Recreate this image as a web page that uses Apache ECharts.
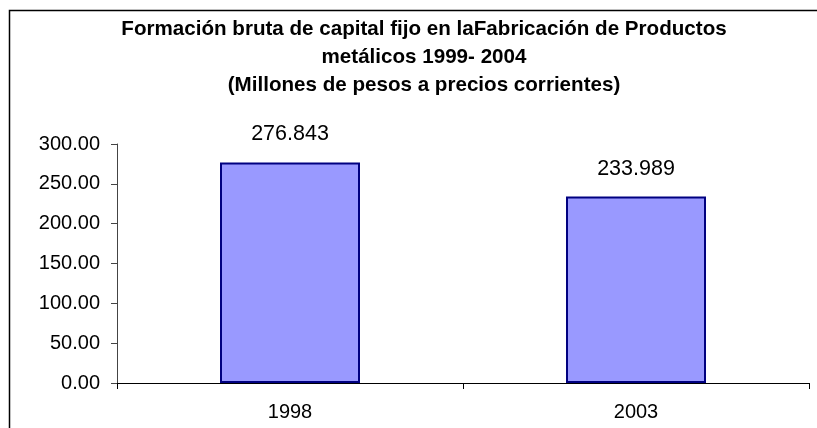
<!DOCTYPE html>
<html>
<head>
<meta charset="utf-8">
<script src="https://cdn.jsdelivr.net/npm/echarts@6/dist/echarts.min.js"></script>
<style>
  html, body { margin: 0; padding: 0; background: #fff; }
  #chart { width: 817px; height: 428px; }
</style>
</head>
<body>
<div id="chart"></div>
<script>
const titleLines = [
  'Formación bruta de capital fijo en laFabricación de Productos',
  'metálicos 1999- 2004',
  '(Millones de pesos a precios corrientes)'
]
const years = ['1998', '2003']
const values = [276.843, 233.989]
const yMin = 0
const yMax = 300
const yStep = 50

const font = "'Liberation Sans', Arial, sans-serif"

const chart = echarts.init(document.getElementById('chart'))

chart.setOption({
  animation: false,
  textStyle: { fontFamily: font },
  title: {
    text: titleLines.join('\n'),
    left: 419,
    top: 10,
    textAlign: 'center',
    textStyle: {
      fontFamily: font,
      fontSize: 20.6,
      fontWeight: 'bold',
      color: '#000',
      lineHeight: 28
    }
  },
  // chart frame, only top and left edges fall inside the picture
  graphic: [
    {
      type: 'rect',
      silent: true,
      shape: { x: 9.5, y: 10.5, width: 900, height: 500 },
      style: { fill: 'none', stroke: '#000', lineWidth: 1.5 }
    }
  ],
  grid: {
    left: 117,
    right: 8,
    top: 144,
    bottom: 45
  },
  xAxis: {
    type: 'category',
    data: years,
    axisLine: { lineStyle: { color: '#000', width: 1 } },
    axisTick: { show: true, length: 6, lineStyle: { color: '#000' } },
    axisLabel: {
      color: '#000',
      fontSize: 20,
      fontFamily: font,
      margin: 19
    }
  },
  yAxis: {
    type: 'value',
    min: yMin,
    max: yMax,
    interval: yStep,
    axisLine: { show: true, lineStyle: { color: '#444', width: 1 } },
    axisTick: { show: true, length: 6, lineStyle: { color: '#444' } },
    splitLine: { show: false },
    axisLabel: {
      color: '#000',
      fontSize: 20,
      fontFamily: font,
      margin: 17,
      formatter: (v) => v.toFixed(2)
    }
  },
  series: [
    {
      type: 'bar',
      data: values,
      barWidth: 140,
      itemStyle: {
        color: '#9999FF',
        borderColor: '#000080',
        borderWidth: 2
      },
      label: {
        show: true,
        position: 'top',
        distance: 17,
        color: '#000',
        fontSize: 21.5,
        fontFamily: font,
        formatter: (p) => p.value.toFixed(3)
      }
    }
  ]
})
</script>
</body>
</html>
